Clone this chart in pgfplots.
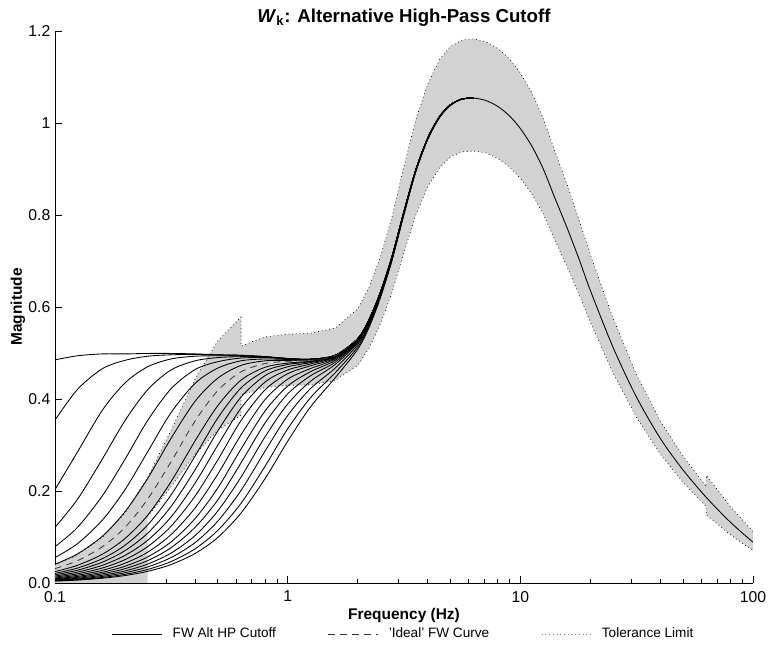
\documentclass[border=0pt]{standalone}
\usepackage{fontspec}
\setmainfont{Liberation Sans}
\usepackage{pgfplots}
\pgfplotsset{compat=1.18}
\definecolor{bandgray}{RGB}{210,210,210}

\pgfplotsset{
  hp/.style={black, line width=0.65pt, smooth, forget plot},
  tol/.style={black, line width=0.5pt, dash pattern=on 0.6pt off 2.2pt, forget plot},
}

\begin{document}
\begin{tikzpicture}
\path[use as bounding box] (-41.25pt,-48.75pt) rectangle (534.75pt,437.25pt);
\begin{axis}[
  at={(0,0)}, anchor=south west, scale only axis,
  width=523.5pt, height=414pt,
  xmode=log, xmin=0.1, xmax=100, ymin=0, ymax=1.2,
  axis lines=left, axis line style={-, line width=0.6pt},
  tick align=inside, major tick length=5pt, minor tick length=3pt,
  tick style={black, line width=0.5pt},
  xtick={0.1,1,10,100}, xticklabels={0.1,1,10,100},
  minor xtick={0.2,0.3,0.4,0.5,0.6,0.7,0.8,0.9,2,3,4,5,6,7,8,9,20,30,40,50,60,70,80,90},
  ytick={0,0.2,0.4,0.6,0.8,1,1.2}, yticklabels={0.0,0.2,0.4,0.6,0.8,1,1.2},
  ticklabel style={font=\fontsize{11.8}{13}\selectfont},
  xticklabel style={yshift=-2.5pt},
  /pgf/number format/assume math mode=true,
  title={\textbf{\textit{W}\textsubscript{k}: Alternative High-Pass Cutoff}},
  title style={font=\fontsize{14}{16}\selectfont, at={(0.5,1)}, anchor=south, yshift=-6pt},
  xlabel={\textbf{Frequency (Hz)}},
  xlabel style={font=\fontsize{11.6}{13}\selectfont, at={(axis description cs:0.5,-0.058)}, anchor=center},
  ylabel={\textbf{Magnitude}},
  ylabel style={font=\fontsize{11.6}{13}\selectfont, at={(axis description cs:-0.053,0.5)}, anchor=center},
  legend columns=3,
  legend style={draw=none, fill=none, at={(0.5,-0.0925)}, anchor=center,
    font=\fontsize{10.2}{12}\selectfont,
    /tikz/every odd column/.append style={column sep=6pt},
    /tikz/every even column/.append style={column sep=37pt}},
  legend image code/.code={\draw[#1] (0cm,0cm) -- (1.3cm,0cm);},
]
\addlegendimage{black, line width=0.6pt}
\addlegendentry{FW Alt HP Cutoff}
\addlegendimage{black!80, line width=0.6pt, dash pattern=on 5pt off 4pt}
\addlegendentry{'Ideal' FW Curve}
\addlegendimage{black!50, line width=0.5pt, dash pattern=on 0.6pt off 2.2pt}
\addlegendentry{Tolerance Limit}

% tolerance band
\addplot[fill=bandgray, draw=none, forget plot] coordinates {
(0.1,0) (0.25,0) (0.25,0.1445) (0.315,0.209) (0.4,0.2795) (0.5,0.332) (0.63,0.3645) (0.63,0.409)
(0.8,0.425) (1,0.4295) (1.25,0.431) (1.6,0.440) (2,0.473) (2.24,0.511) (2.5,0.562) (2.8,0.630)
(3.15,0.716) (3.55,0.799) (4,0.862) (4.5,0.903) (5,0.926) (5.6,0.937) (6.3,0.939) (7.1,0.935)
(8,0.923) (9,0.904) (10,0.880) (11.2,0.846) (12.5,0.804) (14,0.748) (16,0.684) (18,0.624)
(20,0.567) (25,0.457) (31.5,0.361) (40,0.280) (50,0.219) (63,0.1657) (63,0.1477) (80,0.1048) (100,0.0704)
(100,0.112) (80,0.166) (63,0.234) (63,0.209) (50,0.276) (40,0.352) (31.5,0.454) (25,0.576)
(20,0.714) (18,0.785) (16,0.862) (14,0.942) (12.5,1.012) (11.2,1.066) (10,1.109) (9,1.139)
(8,1.162) (7.1,1.177) (6.3,1.183) (5.6,1.180) (5,1.166) (4.5,1.138) (4,1.085) (3.55,1.006)
(3.15,0.902) (2.8,0.793) (2.5,0.708) (2.24,0.643) (2,0.596) (1.6,0.554) (1.25,0.543) (1,0.541)
(0.8,0.535) (0.63,0.515) (0.63,0.578) (0.5,0.526) (0.4,0.443) (0.315,0.331) (0.25,0.229)
(0.2,0.152) (0.16,0.0995) (0.125,0.0612) (0.1,0.0393)} -- cycle;

% curves with different high-pass cutoffs
\addplot[hp] coordinates {(0.1,0.485) (0.125,0.494) (0.16,0.498) (0.2,0.498) (0.25,0.499) (0.315,0.499) (0.4,0.498) (0.5,0.496) (0.63,0.495) (0.8,0.492) (1,0.488) (1.25,0.4865) (1.6,0.495) (2,0.531) (2.24,0.573) (2.5,0.631) (2.8,0.707) (3.15,0.804) (3.55,0.897) (4,0.967) (4.5,1.014) (5,1.039) (5.6,1.052) (6.3,1.054) (7.1,1.049) (8,1.036) (9,1.015) (10,0.988) (11.2,0.950) (12.5,0.902) (14,0.840) (16,0.768) (18,0.700) (20,0.636) (25,0.513) (31.5,0.405) (40,0.314) (50,0.246) (63,0.186) (80,0.132) (100,0.0887)};
\addplot[hp] coordinates {(0.1,0.354) (0.125,0.421) (0.16,0.466) (0.2,0.484) (0.25,0.493) (0.315,0.496) (0.4,0.497) (0.5,0.496) (0.63,0.495) (0.8,0.492) (1,0.488) (1.25,0.4865) (1.6,0.495) (2,0.531) (2.24,0.573) (2.5,0.631) (2.8,0.707) (3.15,0.804) (3.55,0.897) (4,0.967) (4.5,1.014) (5,1.039) (5.6,1.052) (6.3,1.054)};
\addplot[hp] coordinates {(0.1,0.203) (0.125,0.285) (0.16,0.376) (0.2,0.435) (0.25,0.470) (0.315,0.487) (0.4,0.493) (0.5,0.494) (0.63,0.494) (0.8,0.492) (1,0.488) (1.25,0.4865) (1.6,0.495) (2,0.531) (2.24,0.573) (2.5,0.631) (2.8,0.707) (3.15,0.804) (3.55,0.897) (4,0.967) (4.5,1.014) (5,1.039) (5.6,1.052) (6.3,1.054)};
\addplot[hp] coordinates {(0.1,0.121) (0.125,0.182) (0.16,0.270) (0.2,0.353) (0.25,0.420) (0.315,0.463) (0.4,0.483) (0.5,0.490) (0.63,0.492) (0.8,0.491) (1,0.488) (1.25,0.4865) (1.6,0.495) (2,0.531) (2.24,0.573) (2.5,0.631) (2.8,0.707) (3.15,0.804) (3.55,0.897) (4,0.967) (4.5,1.014) (5,1.039) (5.6,1.052) (6.3,1.054)};
\addplot[hp] coordinates {(0.1,0.079) (0.125,0.121) (0.16,0.190) (0.2,0.269) (0.25,0.353) (0.315,0.422) (0.4,0.464) (0.5,0.481) (0.63,0.489) (0.8,0.490) (1,0.487) (1.25,0.486) (1.6,0.495) (2,0.531) (2.24,0.573) (2.5,0.631) (2.8,0.707) (3.15,0.804) (3.55,0.897) (4,0.967) (4.5,1.014) (5,1.039) (5.6,1.052) (6.3,1.054)};
\addplot[hp] coordinates {(0.1,0.0552) (0.125,0.0855) (0.16,0.137) (0.2,0.203) (0.25,0.285) (0.315,0.370) (0.4,0.434) (0.5,0.467) (0.63,0.483) (0.8,0.487) (1,0.486) (1.25,0.486) (1.6,0.495) (2,0.531) (2.24,0.573) (2.5,0.631) (2.8,0.707) (3.15,0.804) (3.55,0.897) (4,0.967) (4.5,1.014) (5,1.039) (5.6,1.052) (6.3,1.054)};
\addplot[hp] coordinates {(0.1,0.0407) (0.125,0.0633) (0.16,0.102) (0.2,0.155) (0.25,0.227) (0.315,0.314) (0.4,0.395) (0.5,0.445) (0.63,0.473) (0.8,0.483) (1,0.484) (1.25,0.485) (1.6,0.494) (2,0.531) (2.24,0.573) (2.5,0.631) (2.8,0.707) (3.15,0.804) (3.55,0.897) (4,0.967) (4.5,1.014) (5,1.039) (5.6,1.052) (6.3,1.054)};
\addplot[hp] coordinates {(0.1,0.0247) (0.125,0.0385) (0.16,0.0627) (0.2,0.0967) (0.25,0.147) (0.315,0.220) (0.4,0.309) (0.5,0.385) (0.63,0.441) (0.8,0.469) (1,0.478) (1.25,0.482) (1.6,0.493) (2,0.530) (2.24,0.572) (2.5,0.631) (2.8,0.707) (3.15,0.804) (3.55,0.897) (4,0.967) (4.5,1.014) (5,1.039) (5.6,1.052) (6.3,1.054)};
\addplot[hp] coordinates {(0.1,0.0208) (0.125,0.0325) (0.16,0.053) (0.2,0.082) (0.25,0.126) (0.315,0.191) (0.4,0.276) (0.5,0.358) (0.63,0.424) (0.8,0.461) (1,0.475) (1.25,0.481) (1.6,0.493) (2,0.530) (2.24,0.572) (2.5,0.631) (2.8,0.707) (3.15,0.804) (3.55,0.897) (4,0.967) (4.5,1.014) (5,1.039) (5.6,1.052) (6.3,1.054)};
\addplot[hp] coordinates {(0.1,0.0178) (0.125,0.0278) (0.16,0.0454) (0.2,0.0704) (0.25,0.108) (0.315,0.166) (0.4,0.246) (0.5,0.330) (0.63,0.404) (0.8,0.451) (1,0.470) (1.25,0.479) (1.6,0.492) (2,0.530) (2.24,0.572) (2.5,0.631) (2.8,0.707) (3.15,0.804) (3.55,0.897) (4,0.967) (4.5,1.014) (5,1.039) (5.6,1.052) (6.3,1.054)};
\addplot[hp] coordinates {(0.1,0.0151) (0.125,0.0236) (0.16,0.0386) (0.2,0.060) (0.25,0.0927) (0.315,0.143) (0.4,0.217) (0.5,0.299) (0.63,0.380) (0.8,0.437) (1,0.463) (1.25,0.476) (1.6,0.491) (2,0.529) (2.24,0.572) (2.5,0.630) (2.8,0.706) (3.15,0.804) (3.55,0.897) (4,0.967) (4.5,1.014) (5,1.039) (5.6,1.052) (6.3,1.054)};
\addplot[hp] coordinates {(0.1,0.0128) (0.125,0.020) (0.16,0.0327) (0.2,0.0508) (0.25,0.0789) (0.315,0.123) (0.4,0.189) (0.5,0.267) (0.63,0.353) (0.8,0.420) (1,0.455) (1.25,0.472) (1.6,0.489) (2,0.528) (2.24,0.571) (2.5,0.630) (2.8,0.706) (3.15,0.804) (3.55,0.897) (4,0.967) (4.5,1.014) (5,1.039) (5.6,1.052) (6.3,1.054)};
\addplot[hp] coordinates {(0.1,0.0108) (0.125,0.0169) (0.16,0.0276) (0.2,0.043) (0.25,0.0668) (0.315,0.105) (0.4,0.163) (0.5,0.236) (0.63,0.322) (0.8,0.399) (1,0.443) (1.25,0.466) (1.6,0.487) (2,0.528) (2.24,0.571) (2.5,0.629) (2.8,0.705) (3.15,0.803) (3.55,0.896) (4,0.967) (4.5,1.014) (5,1.039) (5.6,1.052) (6.3,1.054)};
\addplot[hp] coordinates {(0.1,0.0091) (0.125,0.0143) (0.16,0.0234) (0.2,0.0364) (0.25,0.0566) (0.315,0.089) (0.4,0.140) (0.5,0.206) (0.63,0.291) (0.8,0.374) (1,0.428) (1.25,0.459) (1.6,0.484) (2,0.526) (2.24,0.570) (2.5,0.629) (2.8,0.705) (3.15,0.803) (3.55,0.896) (4,0.967) (4.5,1.014) (5,1.039) (5.6,1.052) (6.3,1.054)};
\addplot[hp] coordinates {(0.1,0.0078) (0.125,0.0122) (0.16,0.020) (0.2,0.0311) (0.25,0.0485) (0.315,0.0765) (0.4,0.121) (0.5,0.180) (0.63,0.261) (0.8,0.348) (1,0.411) (1.25,0.450) (1.6,0.480) (2,0.524) (2.24,0.568) (2.5,0.628) (2.8,0.704) (3.15,0.802) (3.55,0.896) (4,0.966) (4.5,1.014) (5,1.039) (5.6,1.052) (6.3,1.054)};
\addplot[hp] coordinates {(0.1,0.0066) (0.125,0.0103) (0.16,0.0169) (0.2,0.0263) (0.25,0.0411) (0.315,0.0649) (0.4,0.103) (0.5,0.156) (0.63,0.230) (0.8,0.318) (1,0.389) (1.25,0.438) (1.6,0.475) (2,0.522) (2.24,0.566) (2.5,0.626) (2.8,0.703) (3.15,0.802) (3.55,0.895) (4,0.966) (4.5,1.013) (5,1.039) (5.6,1.052) (6.3,1.054)};
\addplot[hp] coordinates {(0.1,0.0056) (0.125,0.0087) (0.16,0.0143) (0.2,0.0223) (0.25,0.0349) (0.315,0.0551) (0.4,0.0878) (0.5,0.134) (0.63,0.201) (0.8,0.287) (1,0.364) (1.25,0.422) (1.6,0.467) (2,0.518) (2.24,0.563) (2.5,0.625) (2.8,0.702) (3.15,0.801) (3.55,0.895) (4,0.966) (4.5,1.013) (5,1.039) (5.6,1.052) (6.3,1.054)};
\addplot[hp] coordinates {(0.1,0.0047) (0.125,0.0074) (0.16,0.0121) (0.2,0.0188) (0.25,0.0294) (0.315,0.0465) (0.4,0.0743) (0.5,0.114) (0.63,0.173) (0.8,0.254) (1,0.335) (1.25,0.402) (1.6,0.457) (2,0.513) (2.24,0.560) (2.5,0.622) (2.8,0.700) (3.15,0.799) (3.55,0.894) (4,0.965) (4.5,1.013) (5,1.038) (5.6,1.052) (6.3,1.054)};
\addplot[hp] coordinates {(0.1,0.0041) (0.125,0.0063) (0.16,0.0104) (0.2,0.0162) (0.25,0.0253) (0.315,0.040) (0.4,0.0641) (0.5,0.0986) (0.63,0.152) (0.8,0.227) (1,0.308) (1.25,0.382) (1.6,0.446) (2,0.508) (2.24,0.556) (2.5,0.619) (2.8,0.699) (3.15,0.798) (3.55,0.893) (4,0.964) (4.5,1.012) (5,1.038) (5.6,1.052) (6.3,1.054)};

% ideal curve
\addplot[black!80, line width=0.6pt, dash pattern=on 5pt off 4pt, smooth, forget plot] coordinates {
(0.1,0.0312) (0.125,0.0486) (0.16,0.079) (0.2,0.121) (0.25,0.182) (0.315,0.263) (0.4,0.352) (0.5,0.418) (0.63,0.459) (0.8,0.477) (1,0.482) (1.25,0.484) (1.6,0.494) (2,0.531)};

% tolerance limits
\addplot[tol] coordinates {
(0.25,0.1445) (0.315,0.209) (0.4,0.2795) (0.5,0.332) (0.63,0.3645) (0.63,0.409)
(0.8,0.425) (1,0.4295) (1.25,0.431) (1.6,0.440) (2,0.473) (2.24,0.511) (2.5,0.562) (2.8,0.630)
(3.15,0.716) (3.55,0.799) (4,0.862) (4.5,0.903) (5,0.926) (5.6,0.937) (6.3,0.939) (7.1,0.935)
(8,0.923) (9,0.904) (10,0.880) (11.2,0.846) (12.5,0.804) (14,0.748) (16,0.684) (18,0.624)
(20,0.567) (25,0.457) (31.5,0.361) (40,0.280) (50,0.219) (63,0.1657) (63,0.1477) (80,0.1048) (100,0.0704)};
\addplot[tol] coordinates {
(100,0.112) (80,0.166) (63,0.234) (63,0.209) (50,0.276) (40,0.352) (31.5,0.454) (25,0.576)
(20,0.714) (18,0.785) (16,0.862) (14,0.942) (12.5,1.012) (11.2,1.066) (10,1.109) (9,1.139)
(8,1.162) (7.1,1.177) (6.3,1.183) (5.6,1.180) (5,1.166) (4.5,1.138) (4,1.085) (3.55,1.006)
(3.15,0.902) (2.8,0.793) (2.5,0.708) (2.24,0.643) (2,0.596) (1.6,0.554) (1.25,0.543) (1,0.541)
(0.8,0.535) (0.63,0.515) (0.63,0.578) (0.5,0.526) (0.4,0.443) (0.315,0.331) (0.25,0.229)
(0.2,0.152) (0.16,0.0995) (0.125,0.0612) (0.1,0.0393)};
\end{axis}
\end{tikzpicture}
\end{document}
